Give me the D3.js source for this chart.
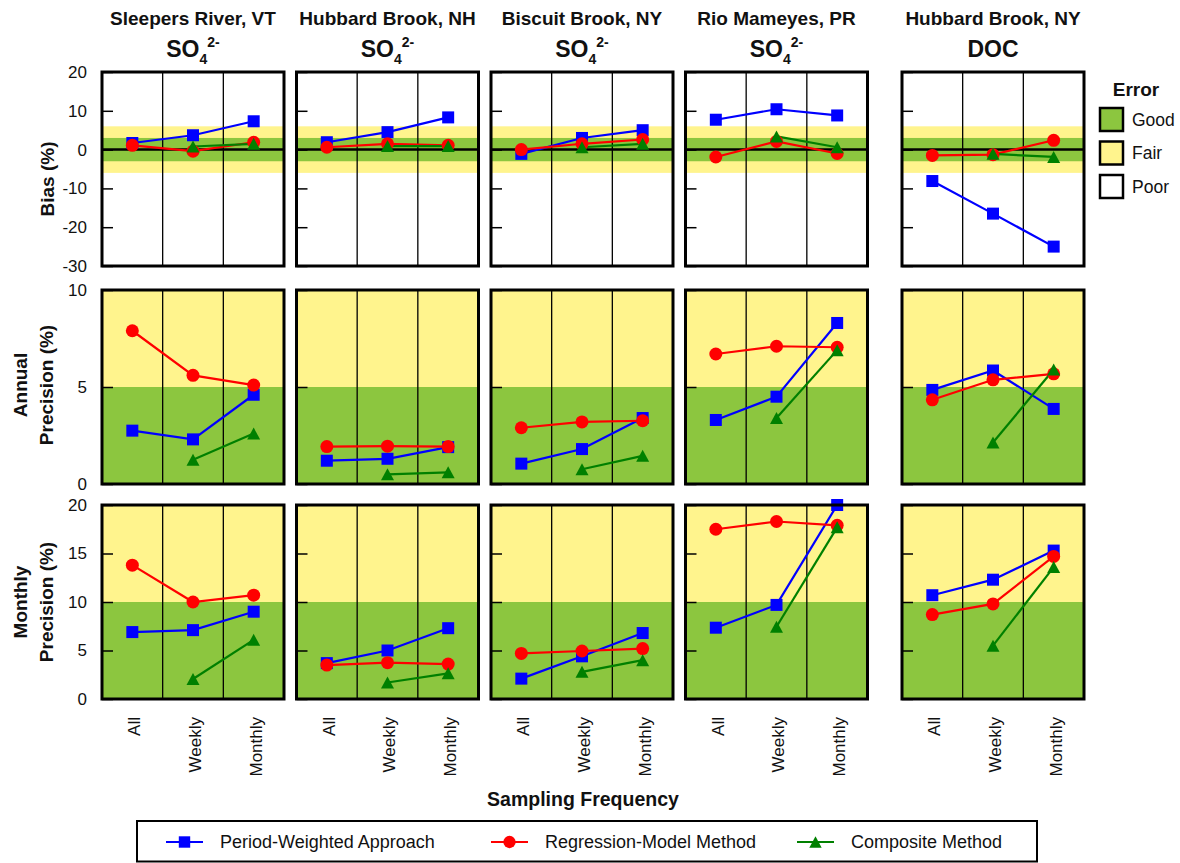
<!DOCTYPE html>
<html>
<head>
<meta charset="utf-8">
<script src="https://cdn.jsdelivr.net/npm/d3@7"></script>
<style>
  body { margin: 0; background: #fff; }
  svg { display: block; font-family: "Liberation Sans", Arial, Helvetica, sans-serif; }
</style>
</head>
<body>
<svg id="chart" width="1180" height="863"></svg>
<script>
// ---- data -------------------------------------------------------------
const sites = ["Sleepers River, VT", "Hubbard Brook, NH", "Biscuit Brook, NY", "Rio Mameyes, PR", "Hubbard Brook, NY"];
const analyteBase = ["SO", "SO", "SO", "SO", "DOC"];
const analyteSub = ["4", "4", "4", "4", ""];
const analyteSup = ["2-", "2-", "2-", "2-", ""];
const frequencies = ["All", "Weekly", "Monthly"];
const methods = ["Period-Weighted Approach", "Regression-Model Method", "Composite Method"];
const errorClasses = ["Good", "Fair", "Poor"];

// Bias (%) per site, values for All / Weekly / Monthly (composite has no "All")
const biasPeriodWeighted = [[1.7, 3.7, 7.3], [1.9, 4.5, 8.3], [-1.1, 3.0, 5.0], [7.7, 10.4, 8.8], [-8.1, -16.5, -25.0]];
const biasRegression     = [[1.1, -0.4, 1.9], [0.6, 1.5, 1.1], [0.0, 1.5, 2.6], [-1.9, 2.1, -1.0], [-1.5, -1.3, 2.4]];
const biasComposite      = [[null, 0.8, 1.5], [null, 0.9, 0.9], [null, 0.6, 1.5], [null, 3.4, 0.6], [null, -1.1, -1.9]];

// Annual precision (%)
const annualPeriodWeighted = [[2.75, 2.3, 4.6], [1.2, 1.3, 1.9], [1.05, 1.8, 3.4], [3.3, 4.5, 8.3], [4.85, 5.85, 3.87]];
const annualRegression     = [[7.9, 5.6, 5.1], [1.93, 1.95, 1.93], [2.9, 3.2, 3.26], [6.7, 7.1, 7.05], [4.34, 5.37, 5.68]];
const annualComposite      = [[null, 1.25, 2.6], [null, 0.5, 0.6], [null, 0.76, 1.45], [null, 3.4, 6.9], [null, 2.14, 5.9]];

// Monthly precision (%)
const monthlyPeriodWeighted = [[6.9, 7.1, 9.0], [3.7, 5.0, 7.3], [2.1, 4.4, 6.8], [7.35, 9.7, 20.0], [10.7, 12.3, 15.3]];
const monthlyRegression     = [[13.8, 10.0, 10.7], [3.5, 3.75, 3.6], [4.7, 4.95, 5.2], [17.5, 18.3, 17.9], [8.7, 9.8, 14.7]];
const monthlyComposite      = [[null, 2.06, 6.1], [null, 1.7, 2.65], [null, 2.8, 4.0], [null, 7.45, 17.7], [null, 5.5, 13.6]];

// Axis ticks and error-class limits
const biasTicks = [-30, -20, -10, 0, 10, 20];
const annualTicks = [0, 5, 10];
const monthlyTicks = [0, 5, 10, 15, 20];
const biasGood = [-3, 3], biasFair = [-6, 6];
const annualGood = [0, 5], annualFair = [5, 10];
const monthlyGood = [0, 10], monthlyFair = [10, 20];

// ---- styling & layout ------------------------------------------------
const seriesColors = ["#0000ff", "#ff0000", "#008000"];
const goodColor = "#8cc63f", fairColor = "#fff48d", poorColor = "#ffffff";
const FONT_BOLD = 19;

const rows = [
  { titles: ["Bias (%)"], titleX: [47], titleDy: 10, domain: [-30, 20], ticks: biasTicks,
    good: biasGood, fair: biasFair, zero: true,
    series: [biasPeriodWeighted, biasRegression, biasComposite] },
  { titles: ["Annual", "Precision (%)"], titleX: [20, 46], titleDy: -2, domain: [0, 10], ticks: annualTicks,
    good: annualGood, fair: annualFair, zero: false,
    series: [annualPeriodWeighted, annualRegression, annualComposite] },
  { titles: ["Monthly", "Precision (%)"], titleX: [20, 46], titleDy: 0, domain: [0, 20], ticks: monthlyTicks,
    good: monthlyGood, fair: monthlyFair, zero: false,
    series: [monthlyPeriodWeighted, monthlyRegression, monthlyComposite] }
];

const panelW = 182, panelH = 194;
const rowTop = [72, 290, 505];
const colLeft = sites.map((s, i) => i < 4 ? 102 + i * 194.5 : 902);

const svg = d3.select("#chart");
svg.append("rect").attr("width", 1180).attr("height", 863).attr("fill", "#fff");

const x = d3.scalePoint().domain(frequencies).range([0, panelW]).padding(0.5);
const xBand = d3.scaleBand().domain(frequencies).range([0, panelW]);

// marker drawing: 0 = square, 1 = circle, 2 = triangle
function drawMarker(sel, k, scale = 1) {
  const c = seriesColors[k];
  if (k === 0) {
    const s = 12 * scale;
    sel.append("rect").attr("x", -s / 2).attr("y", -s / 2).attr("width", s).attr("height", s).attr("fill", c);
  } else if (k === 1) {
    sel.append("circle").attr("r", 6.5 * scale).attr("fill", c);
  } else {
    const w = 13 * scale, h = 12 * scale;
    sel.append("path").attr("d", `M0,${-h / 2}L${w / 2},${h / 2}L${-w / 2},${h / 2}Z`).attr("fill", c);
  }
}

// ---- panels -----------------------------------------------------------
rows.forEach((row, r) => {
  const y = d3.scaleLinear().domain(row.domain).range([panelH, 0]);

  sites.forEach((site, c) => {
    const g = svg.append("g").attr("transform", `translate(${colLeft[c]},${rowTop[r]})`);

    // error-class bands
    g.append("rect").attr("x", 0).attr("width", panelW)
      .attr("y", y(row.fair[1])).attr("height", y(row.fair[0]) - y(row.fair[1]))
      .attr("fill", fairColor);
    g.append("rect").attr("x", 0).attr("width", panelW)
      .attr("y", y(row.good[1])).attr("height", y(row.good[0]) - y(row.good[1]))
      .attr("fill", goodColor);

    // vertical separators between sampling frequencies
    g.selectAll("line.sep").data(frequencies.slice(1)).join("line")
      .attr("class", "sep")
      .attr("x1", d => xBand(d)).attr("x2", d => xBand(d))
      .attr("y1", 0).attr("y2", panelH)
      .attr("stroke", "#000").attr("stroke-width", 1.3);

    // inward ticks on the left edge
    const tickAxis = g.append("g").call(d3.axisRight(y).tickValues(row.ticks).tickSize(11).tickFormat(""));
    tickAxis.select(".domain").remove();
    tickAxis.selectAll("line").attr("stroke", "#000").attr("stroke-width", 1.5);

    if (row.zero) {
      g.append("line").attr("x1", 0).attr("x2", panelW).attr("y1", y(0)).attr("y2", y(0))
        .attr("stroke", "#000").attr("stroke-width", 2.5);
    }

    // tick labels on the first column only
    if (c === 0) {
      const ax = g.append("g").call(d3.axisLeft(y).tickValues(row.ticks).tickSize(0).tickPadding(15)
        .tickFormat(d => String(d)));
      ax.select(".domain").remove();
      ax.selectAll("text").attr("font-size", 17).attr("fill", "#111")
        .attr("font-family", "\"Liberation Sans\", Arial, sans-serif");
    }

    // series lines and markers
    const line = d3.line().defined(d => d != null)
      .x((d, i) => x(frequencies[i])).y(d => y(d));
    row.series.forEach((ser, k) => {
      const vals = ser[c];
      g.append("path").attr("d", line(vals)).attr("fill", "none")
        .attr("stroke", seriesColors[k]).attr("stroke-width", 2.2);
    });
    row.series.forEach((ser, k) => {
      const vals = ser[c];
      vals.forEach((v, i) => {
        if (v == null) return;
        const m = g.append("g").attr("transform", `translate(${x(frequencies[i])},${y(v)})`);
        drawMarker(m, k);
      });
    });

    // panel frame
    g.append("rect").attr("width", panelW).attr("height", panelH)
      .attr("fill", "none").attr("stroke", "#000").attr("stroke-width", 3);
  });

  // row (y-axis) titles
  const cy = rowTop[r] + panelH / 2 + row.titleDy;
  row.titles.forEach((t, j) => {
    svg.append("text")
      .attr("transform", `translate(${row.titleX[j]},${cy}) rotate(-90)`)
      .attr("text-anchor", "middle").attr("dy", "0.35em")
      .attr("font-size", FONT_BOLD).attr("font-weight", "bold").attr("fill", "#111")
      .text(t);
  });
});

// ---- column headings ----------------------------------------------------
sites.forEach((site, c) => {
  const cx = colLeft[c] + panelW / 2;
  svg.append("text").attr("x", cx).attr("y", 25).attr("text-anchor", "middle")
    .attr("font-size", FONT_BOLD).attr("font-weight", "bold").attr("fill", "#111")
    .text(site);
  const t = svg.append("text").attr("x", cx).attr("y", 57).attr("text-anchor", "middle")
    .attr("font-weight", "bold").attr("fill", "#111");
  t.append("tspan").attr("font-size", 23).text(analyteBase[c]);
  if (analyteSub[c]) t.append("tspan").attr("font-size", 14).attr("dy", 7).text(analyteSub[c]);
  if (analyteSup[c]) t.append("tspan").attr("font-size", 14).attr("dy", -17).text(analyteSup[c]);
});

// ---- x tick labels under the bottom row --------------------------------
sites.forEach((site, c) => {
  frequencies.forEach(f => {
    svg.append("text")
      .attr("transform", `translate(${colLeft[c] + x(f) + 2},717) rotate(-90)`)
      .attr("text-anchor", "end").attr("dy", "0.35em")
      .attr("font-size", 17).attr("fill", "#111")
      .text(f);
  });
});

svg.append("text").attr("x", 583).attr("y", 806).attr("text-anchor", "middle")
  .attr("font-size", 19.5).attr("font-weight", "bold").attr("fill", "#111")
  .text("Sampling Frequency");

// ---- error-class legend -----------------------------------------------
svg.append("text").attr("x", 1136).attr("y", 96).attr("text-anchor", "middle")
  .attr("font-size", FONT_BOLD).attr("font-weight", "bold").attr("fill", "#111").text("Error");
const classFill = [goodColor, fairColor, poorColor];
errorClasses.forEach((cls, i) => {
  const yy = 108 + i * 33.5;
  svg.append("rect").attr("x", 1100).attr("y", yy).attr("width", 23).attr("height", 23)
    .attr("fill", classFill[i]).attr("stroke", "#000").attr("stroke-width", 2.5);
  svg.append("text").attr("x", 1132).attr("y", yy + 11.5).attr("dy", "0.35em")
    .attr("font-size", 17.5).attr("fill", "#111").text(cls);
});

// ---- method legend ------------------------------------------------------
svg.append("rect").attr("x", 137).attr("y", 821).attr("width", 900).attr("height", 40.5)
  .attr("fill", "none").attr("stroke", "#000").attr("stroke-width", 2);
const legendX = [166, 491, 797];
methods.forEach((m, k) => {
  const lx = legendX[k], ly = 842;
  svg.append("line").attr("x1", lx).attr("x2", lx + 37).attr("y1", ly).attr("y2", ly)
    .attr("stroke", seriesColors[k]).attr("stroke-width", 2.2);
  const mk = svg.append("g").attr("transform", `translate(${lx + 18.5},${ly})`);
  drawMarker(mk, k, 0.95);
  svg.append("text").attr("x", lx + 54).attr("y", ly).attr("dy", "0.35em")
    .attr("font-size", 18).attr("fill", "#111").text(m);
});
</script>
</body>
</html>
